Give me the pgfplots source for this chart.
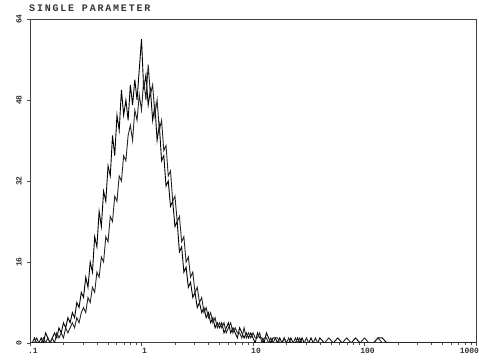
\documentclass[border=0pt]{standalone}
\usepackage{fontspec}
\setmonofont{Liberation Mono}
\newfontfamily\titlefont[LetterSpace=18]{Liberation Mono}
\newfontfamily\tickfont{Liberation Mono}
\usepackage{pgfplots}
\usepackage{pgfplotstable}
\pgfplotsset{compat=1.18}
\pgfplotstableread{
u a b
-1.00 0 0
-0.98 0 0
-0.96 1 0
-0.94 0 1
-0.92 0 0
-0.90 1 0
-0.88 0 1
-0.86 2 0
-0.84 1 1
-0.82 0 0
-0.80 1 1
-0.78 2 0
-0.76 1 2
-0.74 3 1
-0.72 2 2
-0.70 4 1
-0.68 3 3
-0.66 5 2
-0.64 4 3
-0.62 6 4
-0.60 5 3
-0.58 8 5
-0.56 7 4
-0.54 10 6
-0.52 9 7
-0.50 13 6
-0.48 11 9
-0.46 16 8
-0.44 14 11
-0.42 21 10
-0.40 19 14
-0.38 26 13
-0.36 23 17
-0.34 30 16
-0.32 28 21
-0.30 35 20
-0.28 33 25
-0.26 41 24
-0.24 37 29
-0.22 45 28
-0.20 42 33
-0.18 50 32
-0.16 45 37
-0.14 48 36
-0.12 44 41
-0.10 51 43
-0.08 47 40
-0.06 52 46
-0.04 48 44
-0.02 54 49
0.00 60 46
0.02 50 52
0.04 53 48
0.06 47 55
0.08 50 49
0.10 44 51
0.12 47 45
0.14 40 48
0.16 43 42
0.18 36 44
0.20 37 38
0.22 31 39
0.24 32 33
0.26 27 34
0.28 28 28
0.30 23 29
0.32 24 24
0.34 18 25
0.36 19 20
0.38 14 21
0.40 15 16
0.42 11 17
0.44 12 13
0.46 9 14
0.48 10 10
0.50 7 11
0.52 8 8
0.54 6 9
0.56 7 6
0.58 5 7
0.60 6 5
0.62 4 6
0.64 5 4
0.66 3 5
0.68 4 3
0.70 3 4
0.72 4 3
0.74 2 4
0.76 3 2
0.78 4 3
0.80 2 4
0.82 3 2
0.84 2 3
0.86 1 2
0.88 3 2
0.90 2 1
0.92 1 3
0.94 2 1
0.96 1 2
0.98 2 1
1.00 1 2
1.02 0 1
1.04 2 1
1.06 1 2
1.08 1 0
1.10 0 1
1.12 2 1
1.14 1 0
1.16 0 1
1.18 1 0
1.20 1 1
1.22 0 1
1.24 1 0
1.26 0 0
1.28 1 1
1.30 0 0
1.32 0 1
1.34 1 0
1.36 0 0
1.38 0 1
1.40 1 0
1.42 0 1
1.44 1 0
1.46 0 0
1.48 0 1
1.50 0 0
1.52 1 0
1.54 0 0
1.56 0 1
1.58 0 0
1.60 1 0
1.64 0 0
1.68 0 1
1.72 0 0
1.76 1 0
1.80 0 0
1.84 0 1
1.88 0 0
1.92 1 0
1.96 0 0
2.00 0 1
2.04 0 0
2.08 0 0
2.12 1 1
2.16 1 0
2.20 0 0
2.40 0 0
2.60 0 0
2.80 0 0
3.00 0 0
}\histdata
\begin{document}
\begin{tikzpicture}
\useasboundingbox (0,0) rectangle (479pt,361pt);
\begin{axis}[
  at={(30pt,18pt)}, anchor=south west,
  scale only axis, width=446pt, height=324pt,
  xmin=-1, xmax=3, ymin=0, ymax=64,
  axis line style={black!75, line width=1pt},
  xtick={-1,0,1,2,3},
  xticklabels={.1,1,10,100,\makebox[0pt][r]{1000}},
  minor xtick={-0.699,-0.523,-0.398,-0.301,-0.222,-0.155,-0.097,-0.046,
               0.301,0.477,0.602,0.699,0.778,0.845,0.903,0.954,
               1.301,1.477,1.602,1.699,1.778,1.845,1.903,1.954,
               2.301,2.477,2.602,2.699,2.778,2.845,2.903,2.954},
  ytick={0,16,32,48,64},
  yticklabels={0,16,32,48,64},
  tick align=outside,
  major tick length=3pt, minor tick length=2pt,
  tick style={black!70, line width=0.6pt},
  xtick pos=bottom, ytick pos=left,
  xticklabel style={font=\tickfont\bfseries\fontsize{8}{8}\selectfont, xshift=3pt, inner sep=2pt, text=black!80},
  yticklabel style={font=\tickfont\bfseries\fontsize{8}{8}\selectfont, rotate=90, anchor=south, inner sep=5pt, text=black!80},
  title={SINGLE PARAMETER},
  title style={at={(rel axis cs:0,1)}, anchor=south west, inner sep=0pt, yshift=1.5pt, xshift=-1pt,
    font=\titlefont\bfseries\fontsize{10}{10}\selectfont, text=black!80},
]
\addplot[black, line width=0.9pt] table[x=u, y=a] {\histdata};
\addplot[black!85, line width=0.9pt] table[x=u, y=b] {\histdata};
\end{axis}
\end{tikzpicture}
\end{document}
